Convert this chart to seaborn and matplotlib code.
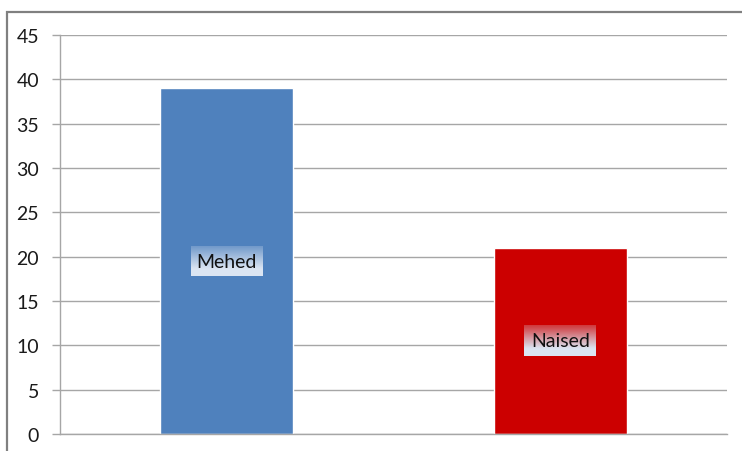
import numpy as np
import pandas as pd
import matplotlib
matplotlib.use("Agg")
import matplotlib.pyplot as plt
import matplotlib.patches as mpatches
import seaborn as sns

categories = ["Mehed", "Naised"]
values = [39, 21]
colors = ["#4f81bd", "#cc0000"]
yticks = [0, 5, 10, 15, 20, 25, 30, 35, 40, 45]

sns.set_style("white")
plt.rcParams['font.family'] = ['Lato', 'DejaVu Sans']

W, H = 742, 452
fig = plt.figure(figsize=(W / 100, H / 100), dpi=100)
ax = fig.add_axes([60 / W, 1 - 435 / H, (727 - 60) / W, (435 - 36) / H])

df = pd.DataFrame({"cat": categories, "val": values})
sns.barplot(data=df, x="cat", y="val", hue="cat", palette=colors, width=0.4,
            legend=False, ax=ax, saturation=1)

ax.set_xlim(-0.5, 1.5)
ax.set_ylim(0, 45)
ax.set_yticks(yticks)
ax.set_yticklabels([str(t) for t in yticks], fontsize=14, color="#1a1a1a")
ax.set_xticks([])
ax.set_xlabel("")
ax.set_ylabel("")
ax.yaxis.grid(True, color="#a6a6a6", linewidth=1.0)
ax.set_axisbelow(True)
ax.tick_params(axis="y", length=6, width=1, color="#a6a6a6", pad=9, left=True)
for s in ["top", "right"]:
    ax.spines[s].set_visible(False)
ax.spines["left"].set_color("#a6a6a6")
ax.spines["bottom"].set_color("#a6a6a6")
ax.spines["left"].set_linewidth(1)
ax.spines["bottom"].set_linewidth(1)

# gradient label boxes
grad_h = 64
base = np.array([0.86, 0.90, 0.95])
img = np.zeros((grad_h, 2, 4))
alpha = np.linspace(0.2, 1.0, grad_h)
alpha = np.clip(alpha * 1.25, 0, 1)
img[:, :, :3] = base
img[:, :, 3] = alpha[:, None]

bw = 72 / 333.5
bh = 30 / (399 / 45)
for i, (c, v) in enumerate(zip(categories, values)):
    ym = v / 2
    ax.imshow(img, extent=[i - bw / 2, i + bw / 2, ym - bh / 2, ym + bh / 2],
              origin="upper", aspect="auto", zorder=5, interpolation="bilinear")
    ax.text(i, ym, c, ha="center", va="center", fontsize=14, color="#111111", zorder=6)

ax.set_xlim(-0.5, 1.5)
ax.set_ylim(0, 45)

# outer chart frame (top and left visible)
fig.patches.append(mpatches.Rectangle((7 / W, -0.2), 1.2, 1 - 13 / H + 0.2,
                                      transform=fig.transFigure, fill=False,
                                      edgecolor="#808080", linewidth=1.6))

fig.savefig("out.png", dpi=100)
